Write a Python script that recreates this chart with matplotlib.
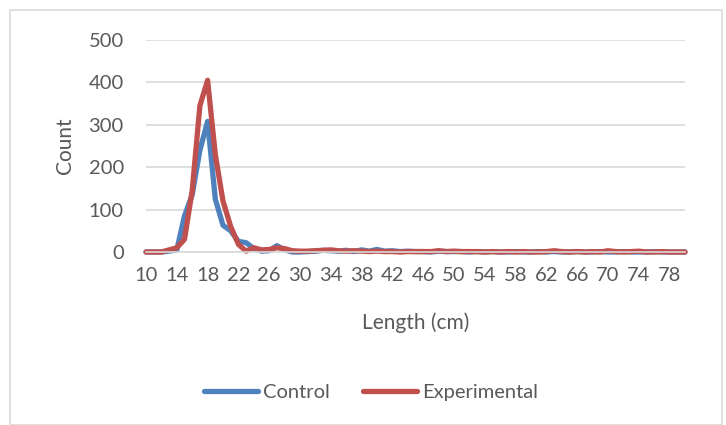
import matplotlib.pyplot as plt
from matplotlib.patches import Rectangle

# Length categories (cm) and counts
lengths = list(range(10, 81))
control = [0, 0, 0, 2, 5, 85, 135, 240, 308, 125,
           63, 50, 25, 22, 8, 2, 3, 15, 5, 0,
           0, 1, 2, 4, 3, 2, 4, 1, 5, 2,
           6, 2, 3, 1, 2, 1, 1, 0, 2, 1,
           1, 1, 0, 1, 0, 1, 0, 0, 1, 0,
           0, 1, 0, 1, 0, 0, 1, 0, 0, 1,
           0, 0, 1, 0, 0, 0, 1, 0, 0, 0,
           0]
experimental = [0, 0, 0, 5, 10, 30, 145, 345, 405, 230,
                120, 60, 18, 2, 10, 5, 6, 10, 8, 3,
                2, 2, 3, 4, 5, 3, 2, 3, 2, 1,
                2, 1, 1, 0, 1, 1, 1, 1, 3, 1,
                2, 1, 1, 1, 0, 1, 0, 1, 0, 1,
                0, 0, 1, 3, 1, 0, 1, 0, 1, 0,
                3, 1, 0, 1, 2, 0, 0, 1, 0, 0,
                0]
xticks = list(range(10, 81, 4))

plt.rcParams['font.family'] = ['Lato', 'DejaVu Sans']
text_col = '#595959'
grid_col = '#d9d9d9'

fig = plt.figure(figsize=(7.26, 4.25), dpi=100)
ax = fig.add_axes([146 / 726, 1 - 252 / 425, (685 - 146) / 726, (252 - 40) / 425])

ax.plot(lengths, control, color='#4f81bd', lw=3.8, label='Control',
        clip_on=False, solid_joinstyle='round', solid_capstyle='round')
ax.plot(lengths, experimental, color='#c0504d', lw=3.8, label='Experimental',
        clip_on=False, solid_joinstyle='round', solid_capstyle='round')

ax.set_xlim(10, 80)
ax.set_ylim(0, 500)
ax.set_xticks(xticks)
ax.set_yticks(range(0, 501, 100))
ax.grid(axis='y', color=grid_col, lw=1.2)
ax.set_axisbelow(True)
for s in ['top', 'right', 'left']:
    ax.spines[s].set_visible(False)
ax.spines['bottom'].set_color(grid_col)
ax.spines['bottom'].set_linewidth(1.2)
ax.tick_params(axis='y', length=0, pad=16, labelsize=14.5, labelcolor=text_col)
ax.tick_params(axis='x', length=0, pad=11, labelsize=14.5, labelcolor=text_col)

ax.set_ylabel('Count', fontsize=15, color=text_col, labelpad=10)
ax.set_xlabel('Length (cm)', fontsize=15, color=text_col, labelpad=20)

fig.legend(loc='center', bbox_to_anchor=(371 / 726, 1 - 392 / 425), ncol=2,
           frameon=False, fontsize=14.5, handlelength=2.7, handletextpad=0.25,
           columnspacing=1.6, labelcolor=text_col)

# outer chart border
fig.patches.append(Rectangle((10 / 726, 0.5 / 425), 712 / 726, 414.5 / 425,
                             transform=fig.transFigure, fill=False,
                             edgecolor=grid_col, lw=1.2))

fig.savefig('out.png', dpi=100)
